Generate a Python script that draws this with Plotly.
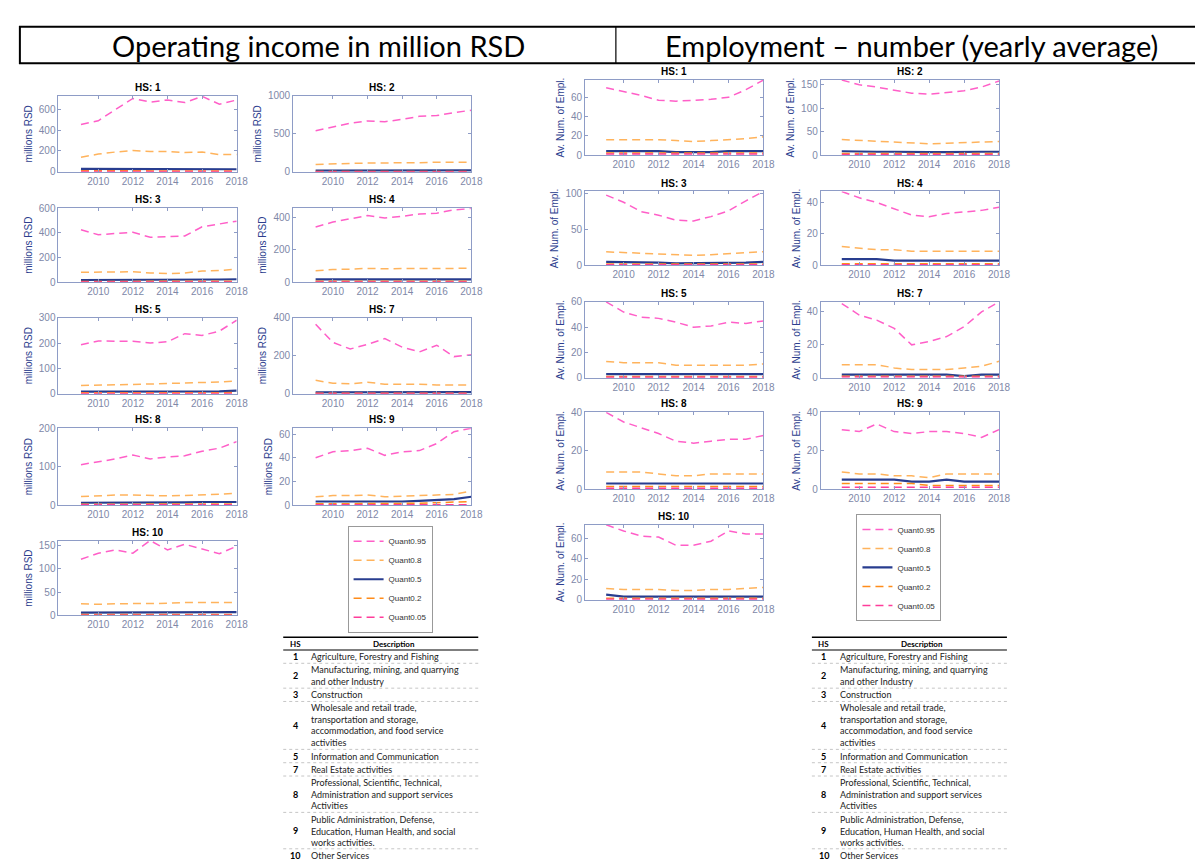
import plotly.graph_objects as go

W, H = 1203, 860

years = [2009, 2010, 2011, 2012, 2013, 2014, 2015, 2016, 2017, 2018]
quantiles = ["Quant0.95", "Quant0.8", "Quant0.5", "Quant0.2", "Quant0.05"]
sectors = ["1", "2", "3", "4", "5", "7", "8", "9", "10"]

# Operating income in million RSD, per sector: [q95, q80, q50, q20, q05]
income_hs1 = [[455, 490, 600, 705, 670, 690, 665, 725, 650, 690],
              [140, 170, 190, 205, 195, 195, 185, 190, 165, 165],
              [28, 28, 30, 30, 30, 28, 27, 27, 24, 24],
              [9, 9, 10, 10, 10, 9, 9, 9, 8, 8],
              [2, 2, 2, 2, 2, 2, 2, 2, 2, 2]]
income_hs2 = [[540, 590, 640, 670, 660, 690, 730, 740, 780, 810],
              [95, 105, 110, 115, 115, 115, 120, 125, 130, 125],
              [14, 15, 16, 17, 17, 17, 17, 18, 18, 18],
              [4, 4, 5, 5, 5, 5, 5, 5, 5, 5],
              [1, 1, 1, 1, 1, 1, 1, 1, 1, 1]]
income_hs3 = [[425, 385, 395, 405, 365, 370, 375, 450, 475, 495],
              [80, 80, 82, 85, 75, 70, 75, 90, 95, 105],
              [18, 18, 18, 18, 17, 17, 17, 18, 22, 24],
              [6, 6, 6, 6, 6, 6, 6, 6, 7, 8],
              [1.5, 1.5, 1.5, 1.5, 1.5, 1.5, 1.5, 1.5, 1.5, 1.5]]
income_hs4 = [[340, 370, 390, 410, 395, 405, 420, 425, 445, 455],
              [70, 78, 80, 85, 83, 85, 85, 85, 85, 87],
              [17, 17, 17, 17, 17, 17, 17, 17, 18, 18],
              [6, 6, 6, 6, 6, 6, 6, 6, 6, 6],
              [1.5, 1.5, 1.5, 1.5, 1.5, 1.5, 1.5, 1.5, 1.5, 1.5]]
income_hs5 = [[193, 208, 207, 207, 200, 205, 237, 230, 247, 290],
              [32, 33, 33, 36, 38, 40, 42, 43, 46, 50],
              [8, 8, 8, 8, 8, 8, 8, 9, 9, 12],
              [3, 3, 3, 3, 3, 3, 3, 3, 3, 4],
              [0.5, 0.5, 0.5, 0.5, 0.5, 0.5, 0.5, 0.5, 0.5, 0.5]]
income_hs7 = [[365, 270, 235, 260, 290, 245, 220, 255, 195, 205],
              [70, 55, 52, 60, 50, 50, 50, 45, 45, 45],
              [7, 7, 7, 7, 7, 7, 7, 7, 8, 8],
              [2.5, 2.5, 2.5, 2.5, 2.5, 2.5, 2.5, 2.5, 2.5, 2.5],
              [0.5, 0.5, 0.5, 0.5, 0.5, 0.5, 0.5, 0.5, 0.5, 0.5]]
income_hs8 = [[105, 112, 120, 130, 120, 125, 128, 140, 148, 165],
              [22, 24, 26, 26, 25, 24, 25, 26, 28, 31],
              [6, 6, 6, 6, 6, 6, 7, 8, 8, 8],
              [2, 2, 2, 2, 2, 2, 2, 2, 3, 3],
              [0.5, 0.5, 0.5, 0.5, 0.5, 0.5, 0.5, 0.5, 0.5, 0.5]]
income_hs9 = [[40, 45, 46, 48, 42, 45, 46, 52, 62, 65],
              [7, 8, 8, 8.5, 7, 7.5, 7.5, 8.5, 9, 12],
              [3, 3, 3, 3, 2.5, 3, 3.5, 4.5, 5, 7],
              [1, 1, 1, 1, 1, 1, 1.5, 2, 2.5, 3],
              [0.3, 0.3, 0.3, 0.3, 0.3, 0.3, 0.3, 0.3, 0.3, 0.3]]
income_hs10 = [[120, 133, 140, 133, 160, 140, 152, 142, 132, 148],
               [25, 24, 25, 25, 26, 26, 28, 28, 28, 28],
               [6, 6, 7, 7, 6, 6, 7, 7, 7, 7],
               [2, 2, 2, 2, 2, 2, 2, 2, 2, 2],
               [0.5, 0.5, 0.5, 0.5, 0.5, 0.5, 0.5, 0.5, 0.5, 0.5]]

# Employment, average number of employees, per sector: [q95, q80, q50, q20, q05]
empl_hs1 = [[70, 66, 62, 57, 56, 57, 58, 60, 68, 78],
            [16, 16, 16, 16, 15, 14, 15, 16, 17, 19],
            [4, 4, 4, 4, 3, 3, 3, 4, 4, 4],
            [2, 2, 2, 2, 2, 2, 2, 2, 2, 2],
            [1, 1, 1, 1, 1, 1, 1, 1, 1, 1]]
empl_hs2 = [[160, 150, 145, 138, 132, 130, 133, 137, 145, 158],
            [33, 31, 29, 27, 25, 24, 25, 26, 27, 29],
            [8, 7, 7, 7, 6, 6, 6, 7, 7, 7],
            [3, 3, 3, 3, 3, 3, 3, 3, 3, 3],
            [1, 1, 1, 1, 1, 1, 1, 1, 1, 1]]
empl_hs3 = [[98, 88, 75, 70, 63, 62, 68, 76, 90, 103],
            [19, 18, 17, 15, 14, 14, 15, 17, 18, 19],
            [5, 5, 4, 4, 3, 3, 4, 4, 4, 5],
            [2, 2, 2, 2, 2, 2, 2, 2, 2, 2],
            [1, 1, 1, 1, 1, 1, 1, 1, 1, 1]]
empl_hs4 = [[47, 43, 40, 36, 32, 31, 33, 34, 35, 37],
            [12, 11, 10, 10, 9, 9, 9, 9, 9, 9],
            [4, 4, 4, 3, 3, 3, 3, 3, 3, 3],
            [1, 1, 1, 1, 1, 1, 1, 1, 1, 1],
            [0.5, 0.5, 0.5, 0.5, 0.5, 0.5, 0.5, 0.5, 0.5, 0.5]]
empl_hs5 = [[60, 52, 48, 47, 44, 40, 41, 44, 43, 45],
            [13, 12, 12, 12, 10, 10, 10, 10, 10, 11],
            [3, 3, 3, 3, 3, 3, 3, 3, 3, 3],
            [1, 1, 1, 1, 1, 1, 1, 1, 1, 1],
            [0.5, 0.5, 0.5, 0.5, 0.5, 0.5, 0.5, 0.5, 0.5, 0.5]]
empl_hs7 = [[45, 38, 35, 30, 20, 22, 25, 31, 40, 46],
            [8, 8, 8, 6, 5, 5, 5, 6, 7, 10],
            [2, 2, 2, 2, 2, 2, 2, 1, 2, 2],
            [1, 1, 1, 1, 1, 1, 1, 1, 1, 1],
            [0.5, 0.5, 0.5, 0.5, 0.5, 0.5, 0.5, 0.5, 0.5, 0.5]]
empl_hs8 = [[40, 35, 32, 29, 25, 24, 25, 26, 26, 28],
            [9, 9, 9, 8, 7, 7, 8, 8, 8, 8],
            [3, 3, 3, 3, 3, 3, 3, 3, 3, 3],
            [1.5, 1.5, 1.5, 1.5, 1.5, 1.5, 1.5, 1.5, 1.5, 1.5],
            [0.5, 0.5, 0.5, 0.5, 0.5, 0.5, 0.5, 0.5, 0.5, 0.5]]
empl_hs9 = [[31, 30, 34, 30, 29, 30, 30, 29, 27, 31],
            [9, 8, 8, 7, 7, 6, 8, 8, 8, 8],
            [5, 5, 5, 5, 4, 4, 5, 4, 4, 4],
            [3, 3, 3, 3, 3, 2, 2, 2, 2, 2],
            [1, 1, 1, 1, 1, 1, 1, 1, 1, 1]]
empl_hs10 = [[73, 67, 62, 61, 53, 53, 57, 67, 64, 64],
             [11, 10, 10, 10, 9, 9, 10, 10, 11, 12],
             [5, 3, 3, 3, 3, 3, 3, 3, 3, 3],
             [1.5, 1.5, 1.5, 1.5, 1.5, 1.5, 1.5, 1.5, 1.5, 1.5],
             [0.5, 0.5, 0.5, 0.5, 0.5, 0.5, 0.5, 0.5, 0.5, 0.5]]

# axis limits / tick steps per sector
income_ymax = [730, 1000, 600, 455, 300, 400, 200, 65, 160]
income_dtick = [200, 500, 200, 200, 100, 200, 100, 20, 50]
empl_ymax = [78, 160, 103, 47, 60, 46, 40, 40, 73]
empl_dtick = [20, 50, 50, 20, 20, 20, 20, 20, 20]
year_ticks = [2010, 2012, 2014, 2016, 2018]

hs_codes = ["1", "2", "3", "4", "5", "7", "8", "9", "10"]
hs_descriptions = [
    "Agriculture, Forestry and Fishing",
    "Manufacturing, mining, and quarrying<br>and other Industry",
    "Construction",
    "Wholesale and retail trade,<br>transportation and storage,<br>accommodation, and food service<br>activities",
    "Information and Communication",
    "Real Estate activities",
    "Professional, Scientific, Technical,<br>Administration and support services<br>Activities",
    "Public Administration, Defense,<br>Education, Human Health, and social<br>works activities.",
    "Other Services",
]

income_data = [income_hs1, income_hs2, income_hs3, income_hs4, income_hs5,
               income_hs7, income_hs8, income_hs9, income_hs10]
empl_data = [empl_hs1, empl_hs2, empl_hs3, empl_hs4, empl_hs5,
             empl_hs7, empl_hs8, empl_hs9, empl_hs10]

# ---------------- styling ----------------
FONT = "Liberation Sans"
styles = [
    dict(color="#ff5fc8", width=1.5, dash="8px,5px"),
    dict(color="#ffb35c", width=1.5, dash="8px,5px"),
    dict(color="#283d8f", width=2.2, dash="solid"),
    dict(color="#ff8c1a", width=1.5, dash="8px,5px"),
    dict(color="#ff3d9a", width=1.5, dash="8px,5px"),
]
BOX = "#8e9cc6"
TICKC = "#8088a8"
YTITLEC = "#2d3e8e"

grid = [(0, 0), (0, 1), (1, 0), (1, 1), (2, 0), (2, 1), (3, 0), (3, 1), (4, 0)]

panels = [
    dict(data=income_data, ymax=income_ymax, dtick=income_dtick,
         cols=[(51, 231), (288, 468)],
         rows=[(83, 160), (197, 272), (308, 385), (420, 498), (534, 610)],
         ytitle="millions RSD", legend="legend", xmin=2007.7),
    dict(data=empl_data, ymax=empl_ymax, dtick=empl_dtick,
         cols=[(583, 763), (821, 1001)],
         rows=[(67, 143), (180, 255), (292, 369), (404, 482), (518, 594)],
         ytitle="Av. Num. of Empl.", legend="legend2", xmin=2007.8),
]

fig = go.Figure()
layout_axes = {}
annotations = []
shapes = []
k = 0
for p in panels:
    for i, hs in enumerate(sectors):
        k += 1
        r, c = grid[i]
        x0, x1 = p["cols"][c]
        y0, y1 = p["rows"][r]
        xname = "xaxis" if k == 1 else f"xaxis{k}"
        yname = "yaxis" if k == 1 else f"yaxis{k}"
        xref = "x" if k == 1 else f"x{k}"
        yref = "y" if k == 1 else f"y{k}"
        for qi, q in enumerate(quantiles):
            fig.add_trace(go.Scatter(
                x=years, y=p["data"][i][qi], mode="lines", name=q,
                line=styles[qi], xaxis=xref, yaxis=yref,
                showlegend=(i == 0), legend=p["legend"], hoverinfo="skip"))
        layout_axes[xname] = dict(
            domain=[x0 / W, x1 / W], anchor=yref, range=[p["xmin"], 2018],
            tickvals=year_ticks, ticks="inside", ticklen=3, tickcolor=BOX,
            showline=True, linecolor=BOX, linewidth=1, mirror="ticks",
            showgrid=False, zeroline=False,
            tickfont=dict(family=FONT, size=10, color=TICKC))
        layout_axes[yname] = dict(
            domain=[1 - y1 / H, 1 - y0 / H], anchor=xref,
            range=[0, p["ymax"][i]], tick0=0, dtick=p["dtick"][i],
            ticks="inside", ticklen=3, tickcolor=BOX,
            showline=True, linecolor=BOX, linewidth=1, mirror="ticks",
            showgrid=False, zeroline=False,
            tickfont=dict(family=FONT, size=10, color=TICKC),
            title=dict(text=p["ytitle"], font=dict(family=FONT, size=10, color=YTITLEC), standoff=4))
        annotations.append(dict(
            text=f"<b>HS: {hs}</b>", x=(x0 + x1) / 2 / W, y=1 - (y0 - 1) / H,
            xref="paper", yref="paper", xanchor="center", yanchor="bottom",
            showarrow=False, font=dict(family=FONT, size=10, color="black")))

# ---------------- description tables (text rows laid out from the lists) ----------------
TFONT = "Lato"
TSIZE = 9
LINE_H = TSIZE * 1.3
ROW_PAD = 1.8
TABLE_TOP = 632
HEADER_H = 13
table_x = [278, 812]
TABLE_W = 197


def ypap(py):
    return 1 - py / H


for tx0 in table_x:
    tx1 = tx0 + TABLE_W
    hs_cx = tx0 + 12
    desc_x = tx0 + 26
    # header
    annotations.append(dict(text="<b>HS</b>", x=hs_cx / W, y=ypap(TABLE_TOP + HEADER_H / 2),
                            xref="paper", yref="paper", xanchor="center", yanchor="middle",
                            showarrow=False, font=dict(family=TFONT, size=8, color="black")))
    annotations.append(dict(text="<b>Description</b>", x=(desc_x + tx1) / 2 / W,
                            y=ypap(TABLE_TOP + HEADER_H / 2),
                            xref="paper", yref="paper", xanchor="center", yanchor="middle",
                            showarrow=False, font=dict(family=TFONT, size=8, color="black")))
    ycur = TABLE_TOP + HEADER_H
    for code, desc in zip(hs_codes, hs_descriptions):
        n = desc.count("<br>") + 1
        h = n * LINE_H + ROW_PAD
        ymid = ycur + h / 2
        annotations.append(dict(text=f"<b>{code}</b>", x=hs_cx / W, y=ypap(ymid),
                                xref="paper", yref="paper", xanchor="center", yanchor="middle",
                                showarrow=False, font=dict(family=TFONT, size=TSIZE, color="black")))
        annotations.append(dict(text=desc, x=desc_x / W, y=ypap(ymid), align="left",
                                xref="paper", yref="paper", xanchor="left", yanchor="middle",
                                showarrow=False, font=dict(family=TFONT, size=TSIZE, color="#222222")))
        ycur += h
        if code != hs_codes[-1]:
            shapes.append(dict(type="line", xref="paper", yref="paper",
                               x0=tx0 / W, x1=tx1 / W, y0=ypap(ycur), y1=ypap(ycur),
                               line=dict(color="#b8b8b8", width=0.8, dash="dot")))
    for yy, wd in [(TABLE_TOP, 1.6), (TABLE_TOP + HEADER_H, 1.2), (859, 1.6)]:
        shapes.append(dict(type="line", xref="paper", yref="paper",
                           x0=tx0 / W, x1=tx1 / W, y0=ypap(yy), y1=ypap(yy),
                           line=dict(color="black", width=wd)))

# ---------------- header box ----------------
shapes.append(dict(type="rect", xref="paper", yref="paper",
                   x0=12 / W, x1=1210 / W, y0=ypap(50), y1=ypap(13),
                   line=dict(color="black", width=2)))
shapes.append(dict(type="line", xref="paper", yref="paper",
                   x0=614 / W, x1=614 / W, y0=ypap(50), y1=ypap(13),
                   line=dict(color="black", width=1.2)))
for txt, cx in [("Operating income in million RSD", 314), ("Employment – number (yearly average)", 913)]:
    annotations.append(dict(text=txt, x=cx / W, y=ypap(32), xref="paper", yref="paper",
                            xanchor="center", yanchor="middle", showarrow=False,
                            font=dict(family="Lato", size=29, color="black")))

legend_common = dict(xanchor="left", yanchor="top", bgcolor="white",
                     bordercolor="#999999", borderwidth=1, tracegroupgap=0,
                     font=dict(family=FONT, size=8, color="#333333"), itemwidth=30)

fig.update_layout(
    width=W, height=H, margin=dict(l=0, r=0, t=0, b=0),
    paper_bgcolor="white", plot_bgcolor="white",
    showlegend=True,
    legend=dict(x=343 / W, y=ypap(519), **legend_common),
    legend2=dict(x=857 / W, y=ypap(507), **legend_common),
    annotations=annotations, shapes=shapes, **layout_axes)

fig.write_html("out.html")
